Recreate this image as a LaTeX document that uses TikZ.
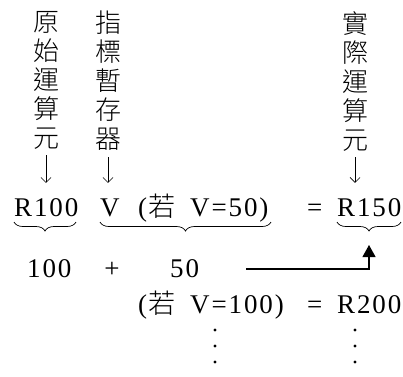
\documentclass[tikz,border=0pt]{standalone}
\usepackage{fontspec}
\setmainfont{Liberation Serif}[LetterSpace=7]
\newfontfamily\cjk{Noto Sans CJK TC}[UprightFont=* Light]
\usetikzlibrary{arrows.meta,decorations.pathreplacing}
\begin{document}
\begin{tikzpicture}[x=1pt,y=-1pt,
  txt/.style={inner sep=0pt,anchor=base west,font=\fontsize{27}{30}\selectfont},
  col/.style={inner sep=0pt,anchor=north,align=center,font=\cjk\fontsize{26}{29}\selectfont},
  down/.style={-{Straight Barb[length=5pt,width=10pt]},line width=0.6pt},
  brc/.style={decorate,decoration={brace,mirror,amplitude=9pt},line width=0.7pt},
  link/.style={line width=1.1pt,-{Triangle[length=12pt,width=13pt]}}]
\useasboundingbox (0,0) rectangle (403,376);
\node[col] (c1) at (46,11) {原\\始\\運\\算\\元};
\node[col] (c2) at (108,11) {指\\標\\暫\\存\\器};
\node[col] (c3) at (355,11) {實\\際\\運\\算\\元};
\node[txt] (r100) at (14,216) {R100};
\node[txt] (v) at (100,216) {V};
\node[txt] (c50) at (138,216) {(\hspace{1pt}{\cjk 若}\hspace{15pt}V=50)};
\node[txt] (eq1) at (307,216) {=};
\node[txt] (r150) at (337,216) {R150};
\node[txt] (n100) at (27,277) {100};
\node[txt,anchor=base] (plus) at (112,277) {+};
\node[txt] (fifty) at (170,277) {50};
\node[txt] (c100) at (138,313) {(\hspace{1pt}{\cjk 若}\hspace{15pt}V=100)};
\node[txt] (eq2) at (307,313) {=};
\node[txt] (r200) at (337,313) {R200};
\draw[down,shorten <=6pt,shorten >=15pt] (c1.south) -- (c1.south |- r100.north);
\draw[down,shorten <=6pt,shorten >=15pt] (c2.south) -- (c2.south |- r100.north);
\draw[down,shorten <=6pt,shorten >=15pt] (c3.south) -- (c3.south |- r150.north);
\draw[brc] (14,222) -- (76,222);
\draw[brc] (100,222) -- (271,222);
\draw[brc] (337,222) -- (401,222);
\coordinate (fstart) at (246,269);
\coordinate (ftip) at (369,245);
\draw[link] (fstart) -| (ftip);
\foreach \x in {215,355} \foreach \y in {330,346,362} \fill (\x,\y) circle (1.6pt);
\end{tikzpicture}
\end{document}
